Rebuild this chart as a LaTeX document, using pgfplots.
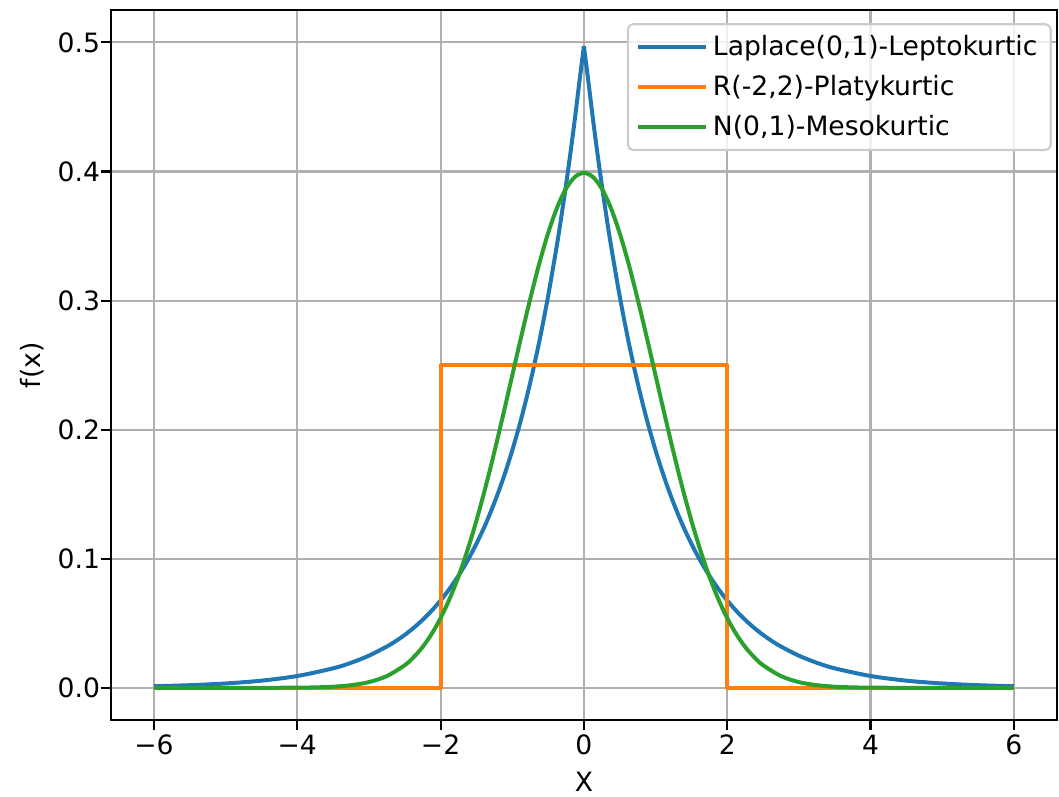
\documentclass[border=0pt]{standalone}
\usepackage{fontspec}
\setmainfont{DejaVu Sans}
\usepackage{pgfplots}
\pgfplotsset{compat=1.18}
\definecolor{c0}{HTML}{1F77B4}
\definecolor{c1}{HTML}{FF7F0E}
\definecolor{c2}{HTML}{2CA02C}
\definecolor{gridc}{HTML}{B0B0B0}
\definecolor{legc}{HTML}{CCCCCC}
\begin{document}
\begin{tikzpicture}
\useasboundingbox (-41.7pt,-28.9pt) rectangle (356.4pt,270.7pt);
\begin{axis}[
  at={(0,0)}, anchor=south west,
  scale only axis,
  width=355.6pt, height=266.9pt,
  xmin=-6.6, xmax=6.6, ymin=-0.025, ymax=0.525,
  xtick={-6,-4,-2,0,2,4,6},
  xticklabels={−6,−4,−2,0,2,4,6},
  ytick={0,0.1,0.2,0.3,0.4,0.5},
  yticklabels={0.0,0.1,0.2,0.3,0.4,0.5},
  tick align=outside, major tick length=3.6pt,
  xtick pos=bottom, ytick pos=left,
  tick style={black, line width=0.8pt},
  axis line style={line width=0.8pt},
  grid=major,
  major grid style={gridc, line width=0.8pt},
  tick label style={font=\fontsize{10}{12}\selectfont},
  yticklabel style={xshift=3pt},
  xticklabel style={yshift=1.5pt},
  label style={font=\fontsize{10}{12}\selectfont},
  xlabel={X}, ylabel={f(x)},
  xlabel style={at={(axis description cs:0.5,-0.087)}, anchor=center},
  ylabel style={at={(axis description cs:-0.0835,0.5)}, anchor=center, rotate=0},
  legend cell align=left,
  legend style={at={(1,1)}, anchor=north east, xshift=-1.9pt, yshift=-4.9pt,
    draw=legc, line width=0.8pt, rounded corners=2pt, fill=white, fill opacity=0.8, text opacity=1,
    font=\fontsize{10}{12}\selectfont, inner xsep=3pt, inner ysep=2pt,
    row sep=2pt},
  legend image code/.code={\draw[#1] (0pt,0pt) -- (21pt,0pt); \path (0pt,0pt) -- (25.5pt,0pt);},
  every axis plot/.append style={line width=1.5pt, line join=round},
]
\addplot[c0, smooth] coordinates {
(-6,0.00124) (-5.5,0.00204) (-5,0.00337) (-4.5,0.00555) (-4,0.00916) (-3.5,0.0151)
(-3.25,0.0194) (-3,0.0249) (-2.75,0.0320) (-2.625,0.0362) (-2.5,0.0410) (-2.375,0.0465)
(-2.25,0.0527) (-2.125,0.0597) (-2,0.0677) (-1.875,0.0767) (-1.75,0.0869) (-1.625,0.0984)
(-1.5,0.1116) (-1.375,0.1264) (-1.25,0.1433) (-1.125,0.1623) (-1,0.1839) (-0.875,0.2084)
(-0.75,0.2362) (-0.625,0.2676) (-0.5,0.3033) (-0.375,0.3436) (-0.3125,0.3658) (-0.25,0.3894)
(-0.1875,0.4145) (-0.125,0.4412) (-0.0625,0.4697) (0,0.497)
};
\addlegendentry{Laplace(0,1)-Leptokurtic}
\addplot[c0, smooth, forget plot] coordinates {
(0,0.497) (0.0625,0.4697) (0.125,0.4412) (0.1875,0.4145) (0.25,0.3894) (0.3125,0.3658)
(0.375,0.3436) (0.5,0.3033) (0.625,0.2676) (0.75,0.2362) (0.875,0.2084) (1,0.1839)
(1.125,0.1623) (1.25,0.1433) (1.375,0.1264) (1.5,0.1116) (1.625,0.0984) (1.75,0.0869)
(1.875,0.0767) (2,0.0677) (2.125,0.0597) (2.25,0.0527) (2.375,0.0465) (2.5,0.0410)
(2.625,0.0362) (2.75,0.0320) (3,0.0249) (3.25,0.0194) (3.5,0.0151) (4,0.00916)
(4.5,0.00555) (5,0.00337) (5.5,0.00204) (6,0.00124)
};
\addplot[c1] coordinates {
(-6,0) (-2,0) (-2,0.25) (2,0.25) (2,0) (6,0)
};
\addlegendentry{R(-2,2)-Platykurtic}
\addplot[c2, smooth] coordinates {
(-6,0) (-5,0.0000015) (-4.5,0.000016) (-4,0.000134) (-3.75,0.000353) (-3.5,0.000873)
(-3.25,0.00203) (-3,0.00443) (-2.75,0.00909) (-2.5,0.0175) (-2.375,0.0238) (-2.25,0.0317)
(-2.125,0.0417) (-2,0.0540) (-1.875,0.0688) (-1.75,0.0863) (-1.625,0.1066) (-1.5,0.1295)
(-1.375,0.1550) (-1.25,0.1826) (-1.125,0.2119) (-1,0.2420) (-0.875,0.2720) (-0.75,0.3011)
(-0.625,0.3282) (-0.5,0.3521) (-0.375,0.3719) (-0.25,0.3867) (-0.125,0.3958) (0,0.3989)
(0.125,0.3958) (0.25,0.3867) (0.375,0.3719) (0.5,0.3521) (0.625,0.3282) (0.75,0.3011)
(0.875,0.2720) (1,0.2420) (1.125,0.2119) (1.25,0.1826) (1.375,0.1550) (1.5,0.1295)
(1.625,0.1066) (1.75,0.0863) (1.875,0.0688) (2,0.0540) (2.125,0.0417) (2.25,0.0317)
(2.375,0.0238) (2.5,0.0175) (2.75,0.00909) (3,0.00443) (3.25,0.00203) (3.5,0.000873)
(3.75,0.000353) (4,0.000134) (4.5,0.000016) (5,0.0000015) (6,0)
};
\addlegendentry{N(0,1)-Mesokurtic}
\end{axis}
\end{tikzpicture}
\end{document}
